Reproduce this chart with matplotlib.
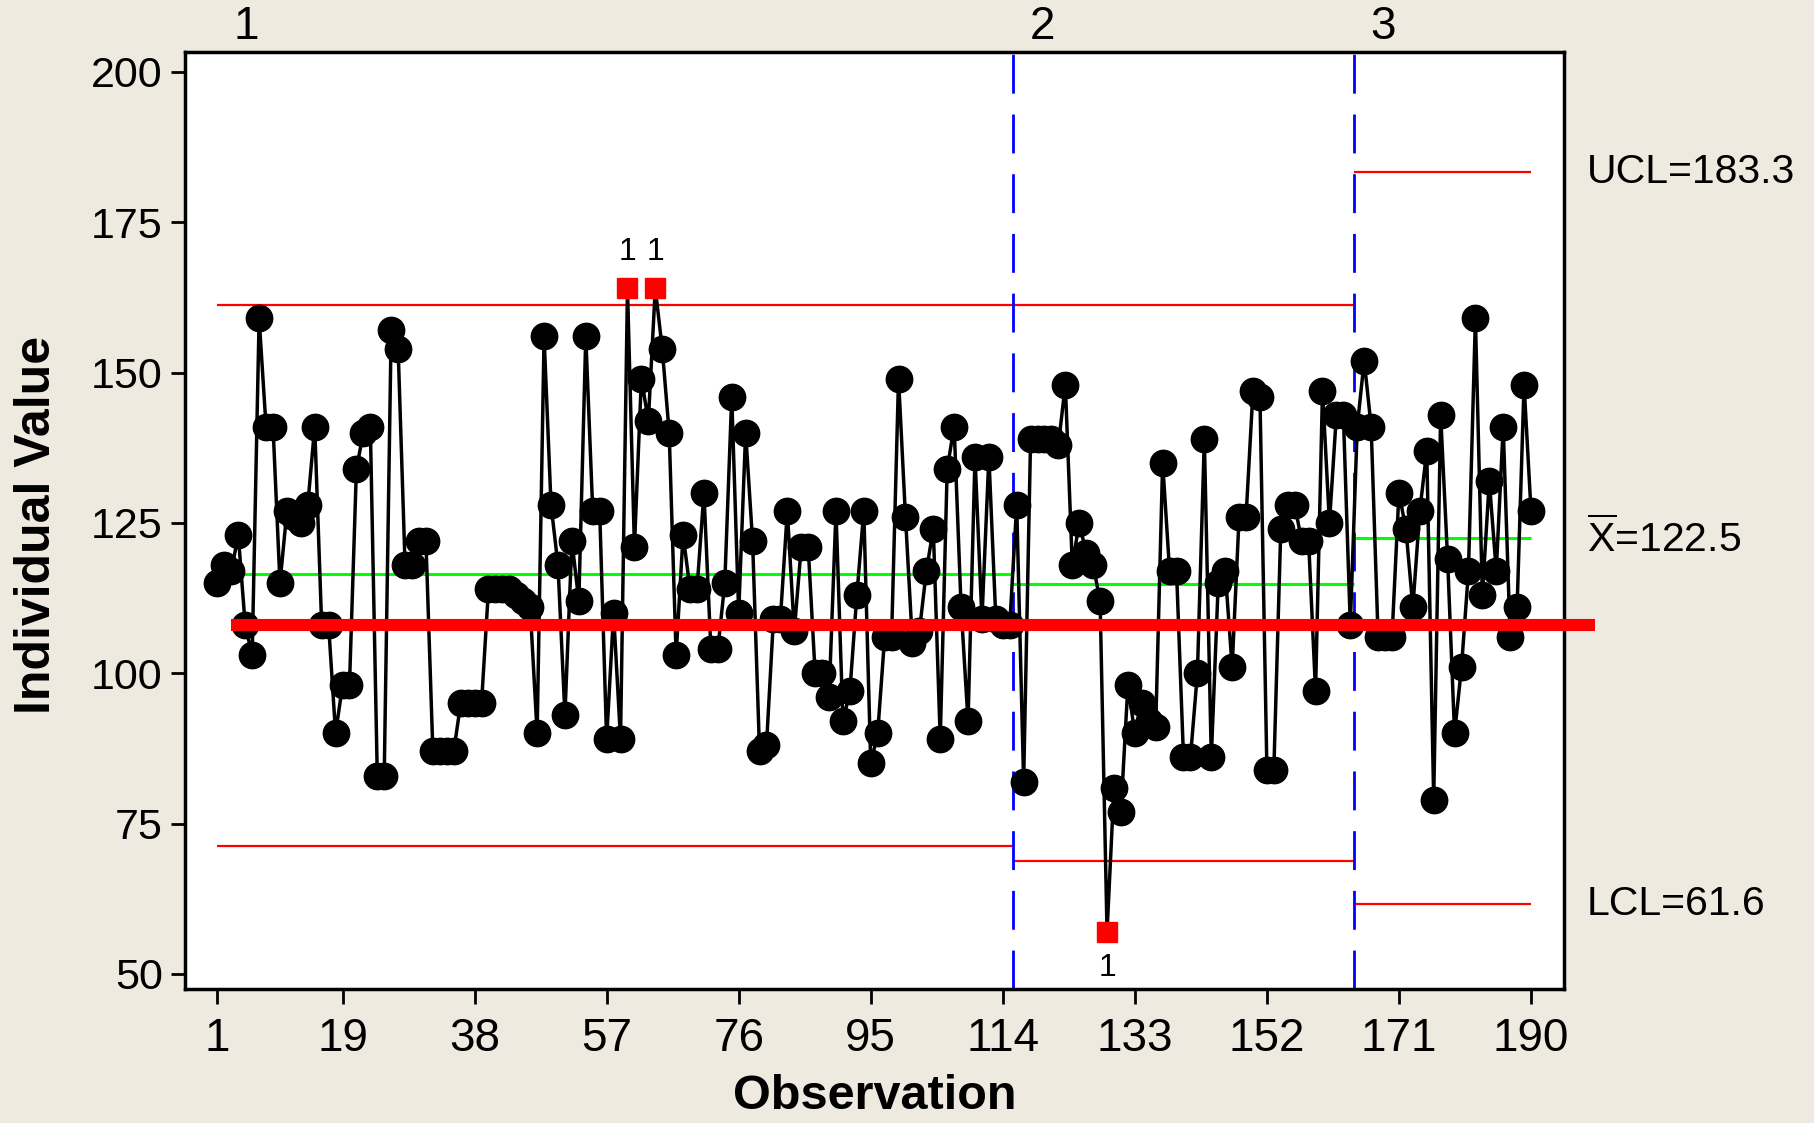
"""Individuals control chart with three stages (Minitab style)."""

import matplotlib

matplotlib.use("Agg")
import matplotlib.pyplot as plt
import numpy as np

plt.rcParams["mathtext.fontset"] = "custom"
plt.rcParams["mathtext.rm"] = "Liberation Sans"

# ---------- data ----------

stage1_values = [
    115, 118, 117, 123, 108, 103, 159, 141, 141, 115,
    127, 126, 125, 128, 141, 108, 108, 90, 98, 98,
    134, 140, 141, 83, 83, 157, 154, 118, 118, 122,
    122, 87, 87, 87, 87, 95, 95, 95, 95, 114,
    114, 114, 114, 113, 112, 111, 90, 156, 128, 118,
    93, 122, 112, 156, 127, 127, 89, 110, 89, 164,
    121, 149, 142, 164, 154, 140, 103, 123, 114, 114,
    130, 104, 104, 115, 146, 110, 140, 122, 87, 88,
    109, 109, 127, 107, 121, 121, 100, 100, 96, 127,
    92, 97, 113, 127, 85, 90, 106, 106, 149, 126,
    105, 107, 117, 124, 89, 134, 141, 111, 92, 136,
    109, 136, 109, 108, 108,
]
stage2_values = [
    128, 82, 139, 139, 139, 139, 138, 148, 118, 125,
    120, 118, 112, 57, 81, 77, 98, 90, 95, 92,
    91, 135, 117, 117, 86, 86, 100, 139, 86, 115,
    117, 101, 126, 126, 147, 146, 84, 84, 124, 128,
    128, 122, 122, 97, 147, 125, 143, 143, 108,
]
stage3_values = [
    141, 152, 141, 106, 106, 106, 130, 124, 111, 127,
    137, 79, 143, 119, 90, 101, 117, 159, 113, 132,
    117, 141, 106, 111, 148, 127,
]

stage_names = ["1", "2", "3"]
stage_ucl = [161.3, 161.3, 183.3]
stage_center = [116.5, 114.8, 122.5]
stage_lcl = [71.2, 68.8, 61.6]

flagged_obs = [60, 64, 129]
flagged_tests = ["1", "1", "1"]

reference_value = 108.0
reference_obs = [3, 199.2]

x_ticks = [1, 19, 38, 57, 76, 95, 114, 133, 152, 171, 190]
y_ticks = [50, 75, 100, 125, 150, 175, 200]

# ---------- styling ----------

BG = "#EEEAE0"
RED = "#FF0000"
GREEN = "#00FF00"
BLUE = "#0000FF"
REGULAR = ["Liberation Sans", "DejaVu Sans"]


def main() -> None:
    stages = [stage1_values, stage2_values, stage3_values]
    values = np.array(stage1_values + stage2_values + stage3_values, dtype=float)
    obs = np.arange(1, len(values) + 1)

    firsts, lasts = [], []
    start = 1
    for vals in stages:
        firsts.append(start)
        lasts.append(start + len(vals) - 1)
        start += len(vals)

    fig = plt.figure(figsize=(18.14, 11.23), dpi=100, facecolor=BG)
    ax = fig.add_axes([0.102, 0.1193, 0.760, 0.8344])
    ax.set_facecolor("white")
    ax.set_xlim(-3.66, 194.7)
    ax.set_ylim(47.5, 203.3)

    # stage limits and centre lines
    for i in range(len(stages)):
        x0 = firsts[i] if i == 0 else firsts[i] - 0.5
        x1 = lasts[i] + 0.5 if i < len(stages) - 1 else lasts[i]
        ax.hlines([stage_ucl[i], stage_lcl[i]], x0, x1, color=RED, lw=1.6, zorder=1)
        ax.hlines(stage_center[i], x0, x1, color=GREEN, lw=2.2, zorder=1)
        if i > 0:
            ax.axvline(x0, color=BLUE, lw=2.0, dashes=(14, 7.5), zorder=1)
        ax.annotate(stage_names[i], xy=(x0, 1.0), xycoords=("data", "axes fraction"),
                    xytext=(21, 18), textcoords="offset points", ha="center", va="center",
                    fontsize=33, family=REGULAR, annotation_clip=False)

    # data
    ax.plot(obs, values, color="black", lw=2.5, zorder=3)
    flagged = np.isin(obs, flagged_obs)
    ax.plot(obs[~flagged], values[~flagged], "o", ms=19, color="black", zorder=4)
    ax.plot(obs[flagged], values[flagged], "s", ms=15, color=RED, zorder=5)
    for o, lab in zip(flagged_obs, flagged_tests):
        v = values[o - 1]
        stage = next(i for i in range(len(stages)) if firsts[i] <= o <= lasts[i])
        dy = 26 if v > stage_center[stage] else -26
        ax.annotate(lab, xy=(o, v), xytext=(0, dy), textcoords="offset points",
                    ha="center", va="center", fontsize=23, family=REGULAR)

    # heavy reference line
    ax.plot(reference_obs, [reference_value, reference_value], color=RED, lw=8.7,
            solid_capstyle="butt", clip_on=False, zorder=6)

    # right-hand labels for the last stage
    right_labels = [
        (f"UCL={stage_ucl[-1]:.1f}", stage_ucl[-1]),
        (r"$\overline{\mathrm{X}}$" + f"={stage_center[-1]:.1f}", stage_center[-1]),
        (f"LCL={stage_lcl[-1]:.1f}", stage_lcl[-1]),
    ]
    for text, y in right_labels:
        ax.annotate(text, xy=(1.0168, y), xycoords=("axes fraction", "data"),
                    ha="left", va="center", fontsize=29.5, family=REGULAR,
                    annotation_clip=False)

    # axes
    ax.set_xticks(x_ticks)
    ax.set_yticks(y_ticks)
    ax.tick_params(axis="y", labelsize=31, length=10, width=2, pad=6)
    ax.tick_params(axis="x", labelsize=33, length=11, width=2, pad=9)
    for lab in ax.get_yticklabels() + ax.get_xticklabels():
        lab.set_family(REGULAR)
    for spine in ax.spines.values():
        spine.set_linewidth(2.5)

    fig.text(0.0204, 0.533, "Individual Value", rotation=90, ha="center", va="center",
             fontsize=36, fontweight="bold", family=REGULAR)
    fig.text(0.4823, 0.024, "Observation", ha="center", va="center",
             fontsize=35, fontweight="bold", family=REGULAR)

    fig.savefig("out.png", dpi=100, facecolor=BG)
    plt.close(fig)


if __name__ == "__main__":
    main()
